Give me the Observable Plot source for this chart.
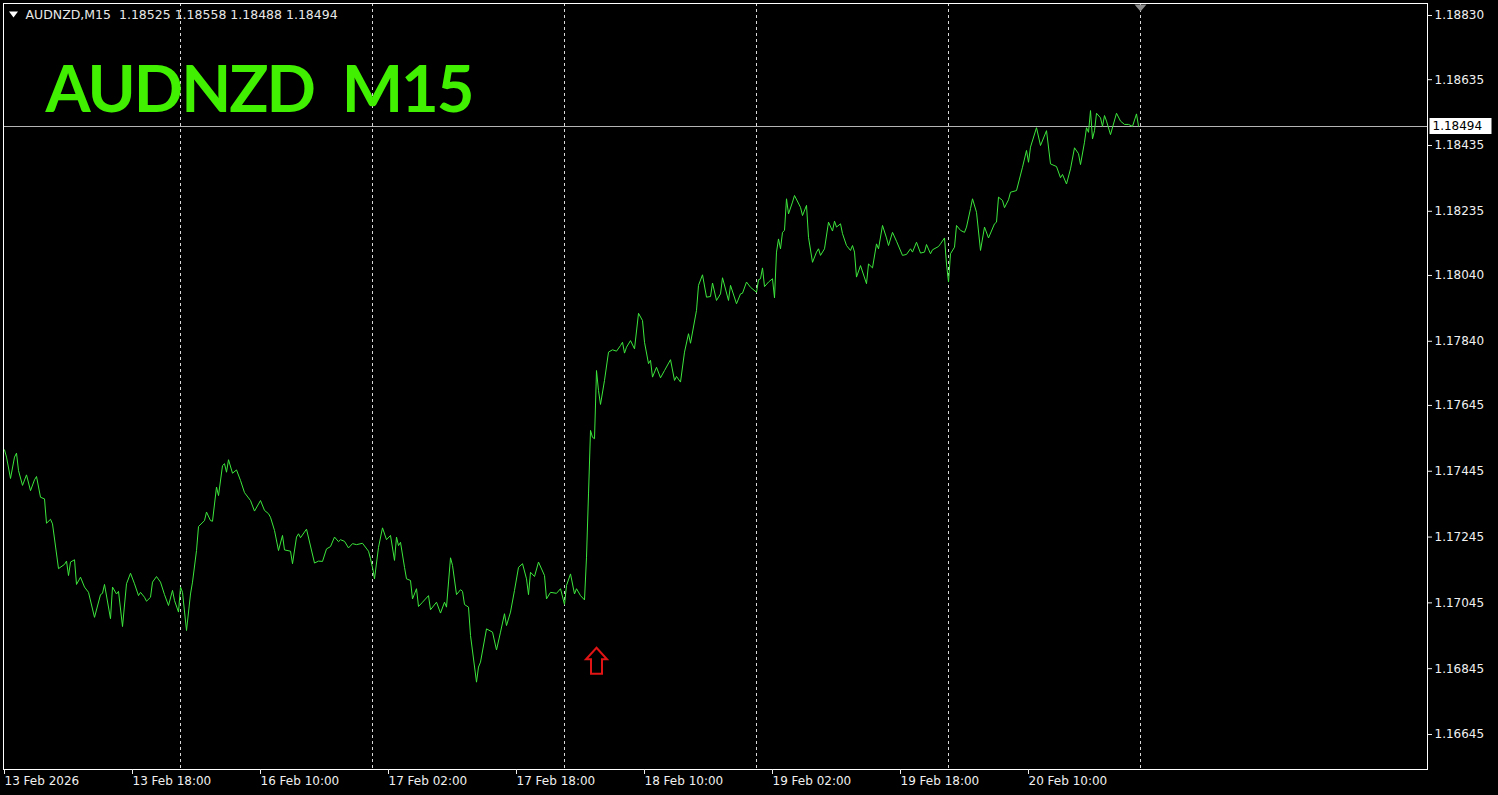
<!DOCTYPE html>
<html><head><meta charset="utf-8">
<script src="https://cdn.jsdelivr.net/npm/d3@7"></script>
<script src="https://cdn.jsdelivr.net/npm/@observablehq/plot@0.6"></script>
<style>
html,body{margin:0;padding:0;background:#000;overflow:hidden}
svg text{white-space:pre}
</style></head><body><div id="chart"></div>
<script>
const symbolName = "AUDNZD";
const period = "M15";
const ohlc = [1.18525, 1.18558, 1.18488, 1.18494];

// bar index (M15 bars, weekend skipped) and close price
const bars = [
0,1,3,5,6,7,9,11,13,15,
16,18,20,21,23,24,27,30,31,32,
33,35,36,38,40,42,45,48,49,50,
53,54,56,57,59,61,63,65,67,68,
70,71,73,74,76,78,80,82,84,85,
87,88,89,91,93,94,96,97,100,101,
103,104,106,107,109,110,111,112,114,116,
118,120,123,125,128,130,132,133,135,137,
139,140,143,144,146,147,148,151,155,157,
159,161,163,165,167,168,170,172,174,176,
179,182,183,184,185,187,189,191,193,195,
196,197,198,200,201,203,204,206,207,209,
212,213,216,218,220,221,223,224,226,228,
229,230,232,233,236,237,238,241,244,246,
248,250,251,253,255,257,259,261,262,263,
265,267,270,271,273,276,278,280,281,283,
285,286,288,290,291,292,293,294,295,296,
297,298,300,302,304,306,308,309,310,311,
313,315,317,319,320,322,323,324,326,328,
330,333,335,336,338,340,342,343,346,347,
349,351,353,354,356,358,359,362,363,366,
368,369,371,373,376,377,378,379,380,382,
384,385,386,387,388,389,390,391,392,394,
395,398,399,401,402,404,406,407,408,410,
412,414,415,416,418,419,421,423,424,425,
426,428,431,432,434,436,437,439,441,442,
444,446,449,451,453,454,456,458,460,461,
463,464,467,468,470,471,472,473,475,476,
478,480,481,483,484,486,488,490,492,495,
496,497,499,500,502,503,506,509,511,512,
513,516,518,521,523,526,528,529,531,533,
535,537,538,540,541,542,543,544,545,546,
548,549,550,551,553,556,558,560,562,564,
566,567
];
const closes = [
1.17510,1.17488,1.17423,1.17488,1.17500,1.17447,1.17402,1.17434,1.17386,1.17419,
1.17429,1.17366,1.17361,1.17287,1.17299,1.17285,1.17149,1.17162,1.17172,1.17128,
1.17169,1.17176,1.17101,1.17123,1.17093,1.17077,1.17001,1.17070,1.17074,1.17101,
1.16997,1.17093,1.17072,1.17080,1.16973,1.17103,1.17135,1.17103,1.17067,1.17077,
1.17062,1.17050,1.17062,1.17108,1.17125,1.17108,1.17070,1.17037,1.17083,1.17052,
1.17017,1.17093,1.17077,1.16961,1.17072,1.17108,1.17204,1.17277,1.17295,1.17321,
1.17295,1.17293,1.17397,1.17371,1.17462,1.17468,1.17442,1.17480,1.17439,1.17449,
1.17417,1.17380,1.17356,1.17324,1.17356,1.17326,1.17316,1.17305,1.17265,1.17204,
1.17250,1.17206,1.17202,1.17164,1.17245,1.17255,1.17243,1.17269,1.17166,1.17172,
1.17171,1.17209,1.17216,1.17245,1.17231,1.17237,1.17232,1.17212,1.17225,1.17222,
1.17226,1.17202,1.17179,1.17153,1.17118,1.17214,1.17273,1.17237,1.17250,1.17174,
1.17245,1.17219,1.17229,1.17153,1.17118,1.17113,1.17057,1.17088,1.17034,1.17047,
1.17067,1.17024,1.17047,1.17014,1.17047,1.17032,1.17182,1.17159,1.17070,1.17085,
1.17080,1.17040,1.17032,1.16946,1.16804,1.16850,1.16865,1.16966,1.16956,1.16902,
1.16956,1.17012,1.16976,1.17017,1.17083,1.17153,1.17164,1.17118,1.17070,1.17138,
1.17125,1.17169,1.17128,1.17057,1.17077,1.17074,1.17088,1.17040,1.17098,1.17133,
1.17072,1.17088,1.17067,1.17054,1.17184,1.17376,1.17569,1.17548,1.17544,1.17751,
1.17690,1.17648,1.17721,1.17807,1.17814,1.17810,1.17827,1.17837,1.17804,1.17822,
1.17842,1.17817,1.17925,1.17903,1.17837,1.17772,1.17782,1.17731,1.17761,1.17729,
1.17751,1.17784,1.17721,1.17733,1.17716,1.17807,1.17863,1.17834,1.17934,1.18010,
1.18042,1.17974,1.17976,1.18017,1.17964,1.17984,1.18033,1.17964,1.18010,1.17954,
1.17984,1.17986,1.18020,1.18004,1.17989,1.18027,1.18030,1.18063,1.18006,1.18020,
1.18030,1.17972,1.18111,1.18151,1.18121,1.18171,1.18177,1.18273,1.18227,1.18263,
1.18283,1.18247,1.18222,1.18253,1.18156,1.18080,1.18111,1.18121,1.18101,1.18121,
1.18202,1.18175,1.18205,1.18187,1.18197,1.18167,1.18131,1.18116,1.18131,1.18111,
1.18035,1.18070,1.18015,1.18075,1.18063,1.18136,1.18121,1.18192,1.18154,1.18131,
1.18171,1.18144,1.18101,1.18104,1.18121,1.18111,1.18141,1.18108,1.18111,1.18134,
1.18106,1.18118,1.18128,1.18136,1.18154,1.18075,1.18020,1.18106,1.18126,1.18192,
1.18177,1.18171,1.18187,1.18243,1.18273,1.18232,1.18116,1.18187,1.18154,1.18197,
1.18202,1.18278,1.18268,1.18246,1.18270,1.18293,1.18298,1.18369,1.18420,1.18384,
1.18430,1.18489,1.18435,1.18480,1.18379,1.18371,1.18337,1.18347,1.18318,1.18364,
1.18428,1.18410,1.18377,1.18445,1.18489,1.18475,1.18541,1.18455,1.18480,1.18533,
1.18519,1.18493,1.18526,1.18509,1.18468,1.18533,1.18509,1.18499,1.18499,1.18493,
1.18531,1.18494
];

const yTicks = [1.18830,1.18635,1.18435,1.18235,1.18040,1.17840,1.17645,1.17445,1.17245,1.17045,1.16845,1.16645];
const xTickBars = [0,64,128,192,256,320,384,448,512];
const xTickLabels = ["13 Feb 2026","13 Feb 18:00","16 Feb 10:00","17 Feb 02:00","17 Feb 18:00","18 Feb 10:00","19 Feb 02:00","19 Feb 18:00","20 Feb 10:00"];
const dayStartBars = [88,184,280,376,472,568];
const arrowBars = [296];
const arrowPrices = [1.16869];

const data = bars.map((b, k) => ({bar: b, close: closes[k]}));
const arrows = arrowBars.map((b, k) => ({bar: b, price: arrowPrices[k]}));
const lastClose = ohlc[3];
const shiftBar = bars[bars.length - 1] + 1;
const labelByBar = new Map(xTickBars.map((b, k) => [b, xTickLabels[k]]));
const titleText = `${symbolName}  ${period}`;

const arrowSymbol = {draw(ctx) {
  ctx.moveTo(0, -13); ctx.lineTo(10.5, -1.5); ctx.lineTo(5.5, -1.5); ctx.lineTo(5.5, 13);
  ctx.lineTo(-5.5, 13); ctx.lineTo(-5.5, -1.5); ctx.lineTo(-10.5, -1.5); ctx.closePath();
}};
const boxSymbol = {draw(ctx) { ctx.rect(-31, -8, 62, 16); }};
const downTri = (w, h) => ({draw(ctx) { ctx.moveTo(-w/2, -h/2); ctx.lineTo(w/2, -h/2); ctx.lineTo(0, h/2); ctx.closePath(); }});

const fg = "#f0f0f0";
const chart = Plot.plot({
  width: 1498, height: 795,
  marginLeft: 3, marginTop: 3, marginRight: 71, marginBottom: 26,
  style: {background: "#000", fontFamily: "DejaVu Sans", fontSize: "12px", color: fg},
  x: {domain: [-0.5, 711.5]},
  y: {domain: [1.165386, 1.188665]},
  marks: [
    Plot.ruleX(dayStartBars, {stroke: "#d8d8d8", strokeDasharray: "3,3", shapeRendering: "crispEdges"}),
    Plot.ruleY([lastClose], {stroke: "#b4b4b4", shapeRendering: "crispEdges"}),
    Plot.line(data, {x: "bar", y: "close", stroke: "#3ce63c", strokeWidth: 1}),
    Plot.dot(arrows, {x: "bar", y: "price", symbol: arrowSymbol, stroke: "#e01414", strokeWidth: 2, fill: "none"}),
    Plot.frame({stroke: "#ffffff", shapeRendering: "crispEdges"}),
    Plot.axisY(yTicks, {anchor: "right", tickSize: 4, tickPadding: 3, tickFormat: d => d.toFixed(5), color: fg, fontSize: 12, label: null}),
    Plot.axisX(xTickBars, {anchor: "bottom", tickSize: 5, tickPadding: 2, tickFormat: d => labelByBar.get(d), textAnchor: "start", color: fg, fontSize: 12, label: null}),
    Plot.dot([lastClose], {y: d => d, frameAnchor: "right", dx: 33, symbol: boxSymbol, fill: "#ffffff", stroke: null}),
    Plot.text([lastClose], {y: d => d, frameAnchor: "right", dx: 5, textAnchor: "start", text: d => d.toFixed(5), fill: "#000", fontSize: 12}),
    Plot.dot([shiftBar], {x: d => d, frameAnchor: "top", dy: 4.5, symbol: downTri(12, 7), fill: "#8c8c8c", stroke: null}),
    Plot.dot([0], {frameAnchor: "top-left", dx: 10, dy: 11, symbol: downTri(9, 6), fill: "#ffffff", stroke: null}),
    Plot.text([`${symbolName},${period}  ${ohlc.map(v => v.toFixed(5)).join(" ")}`], {frameAnchor: "top-left", dx: 22, dy: 7, lineAnchor: "top", textAnchor: "start", fill: "#e8e8e8", fontSize: 12.5}),
    Plot.text([titleText], {frameAnchor: "top-left", dx: 42, dy: 62, lineAnchor: "top", textAnchor: "start", fill: "#40f000", fontSize: 65, fontWeight: "bold", fontFamily: "Lato"})
  ]
});
d3.select(chart).selectAll("text").filter(function() { return this.textContent === titleText; }).attr("letter-spacing", "-2");
document.getElementById("chart").appendChild(chart);
</script></body></html>
